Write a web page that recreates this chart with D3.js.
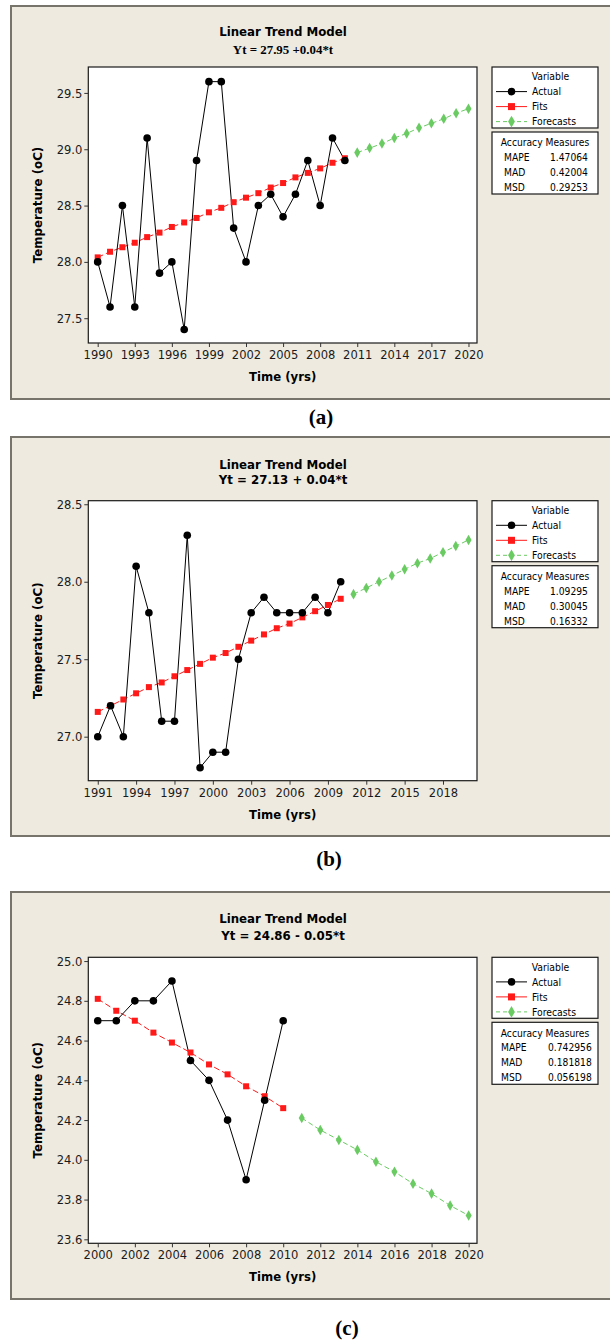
<!DOCTYPE html>
<html>
<head>
<meta charset="utf-8">
<script src="https://cdn.jsdelivr.net/npm/d3@7"></script>
<style>
  body { margin: 0; background: #fff; }
  svg text { font-family: "DejaVu Sans", sans-serif; }
  svg text.cond { font-family: "DejaVu Sans Condensed", "DejaVu Sans", sans-serif; font-stretch: condensed; }
</style>
</head>
<body>
<svg id="chart" width="610" height="1342"></svg>
<script>
// ---- data (a) ----
const yearsA = [1990, 1991, 1992, 1993, 1994, 1995, 1996, 1997, 1998, 1999, 2000,
  2001, 2002, 2003, 2004, 2005, 2006, 2007, 2008, 2009, 2010];
const actualA = [28.0, 27.6, 28.5, 27.6, 29.1, 27.9, 28.0, 27.4, 28.9, 29.6, 29.6,
  28.3, 28.0, 28.5, 28.6, 28.4, 28.6, 28.9, 28.5, 29.1, 28.9];
const fitsA = [28.04, 28.09, 28.13, 28.17, 28.22, 28.26, 28.31, 28.35, 28.39, 28.44, 28.48,
  28.53, 28.57, 28.61, 28.66, 28.70, 28.75, 28.79, 28.83, 28.88, 28.92];
const forecastYearsA = [2011, 2012, 2013, 2014, 2015, 2016, 2017, 2018, 2019, 2020];
const forecastsA = [28.97, 29.01, 29.05, 29.10, 29.14, 29.19, 29.23, 29.27, 29.32, 29.36];
const xTicksA = [1990, 1993, 1996, 1999, 2002, 2005, 2008, 2011, 2014, 2017, 2020];
const yTicksA = [27.5, 28.0, 28.5, 29.0, 29.5];
const measuresA = [["MAPE", "1.47064"], ["MAD", "0.42004"], ["MSD", "0.29253"]];

// ---- data (b) ----
const yearsB = [1991, 1992, 1993, 1994, 1995, 1996, 1997, 1998, 1999, 2000,
  2001, 2002, 2003, 2004, 2005, 2006, 2007, 2008, 2009, 2010];
const actualB = [27.0, 27.2, 27.0, 28.1, 27.8, 27.1, 27.1, 28.3, 26.8, 26.9,
  26.9, 27.5, 27.8, 27.9, 27.8, 27.8, 27.8, 27.9, 27.8, 28.0];
const fitsB = [27.16, 27.20, 27.24, 27.28, 27.32, 27.35, 27.39, 27.43, 27.47, 27.51,
  27.54, 27.58, 27.62, 27.66, 27.70, 27.73, 27.77, 27.81, 27.85, 27.89];
const forecastYearsB = [2011, 2012, 2013, 2014, 2015, 2016, 2017, 2018, 2019, 2020];
const forecastsB = [27.92, 27.96, 28.00, 28.04, 28.08, 28.12, 28.15, 28.19, 28.23, 28.27];
const xTicksB = [1991, 1994, 1997, 2000, 2003, 2006, 2009, 2012, 2015, 2018];
const yTicksB = [27.0, 27.5, 28.0, 28.5];
const measuresB = [["MAPE", "1.09295"], ["MAD", "0.30045"], ["MSD", "0.16332"]];

// ---- data (c) ----
const yearsC = [2000, 2001, 2002, 2003, 2004, 2005, 2006, 2007, 2008, 2009, 2010];
const actualC = [24.7, 24.7, 24.8, 24.8, 24.9, 24.5, 24.4, 24.2, 23.9, 24.3, 24.7];
const fitsC = [24.81, 24.75, 24.70, 24.64, 24.59, 24.54, 24.48, 24.43, 24.37, 24.32, 24.26];
const forecastYearsC = [2011, 2012, 2013, 2014, 2015, 2016, 2017, 2018, 2019, 2020];
const forecastsC = [24.21, 24.15, 24.10, 24.05, 23.99, 23.94, 23.88, 23.83, 23.77, 23.72];
const xTicksC = [2000, 2002, 2004, 2006, 2008, 2010, 2012, 2014, 2016, 2018, 2020];
const yTicksC = [23.6, 23.8, 24.0, 24.2, 24.4, 24.6, 24.8, 25.0];
const measuresC = [["MAPE", "0.742956"], ["MAD", "0.181818"], ["MSD", "0.056198"]];

const titleText = "Linear Trend Model";
const legendLabels = ["Actual", "Fits", "Forecasts"];

// colours
const RED = "#ff1a1a";
const GREEN = "#6acb62";
const BG = "#eeeae0";
const FRAME = "#77746c";

const panels = [
  { top: 6, bottom: 399, plotTop: 67, plotBottom: 343,
    yDomain: [27.28, 29.73], xDomain: [1989.24, 2020.69],
    years: yearsA, actual: actualA, fits: fitsA, fYears: forecastYearsA, forecasts: forecastsA,
    xTicks: xTicksA, yTicks: yTicksA, measures: measuresA,
    sub: "Yt = 27.95 +0.04*t", serifSub: true, titleY: 32, subY: 49,
    caption: "(a)", capX: 321, capY: 417, valX: 550, labX: 504 },
  { top: 437, bottom: 836, plotTop: 500.7, plotBottom: 780.7,
    yDomain: [26.716, 28.523], xDomain: [1990.26, 2020.66],
    years: yearsB, actual: actualB, fits: fitsB, fYears: forecastYearsB, forecasts: forecastsB,
    xTicks: xTicksB, yTicks: yTicksB, measures: measuresB,
    sub: "Yt = 27.13 + 0.04*t", serifSub: false, titleY: 465, subY: 480,
    caption: "(b)", capX: 329, capY: 859, valX: 550, labX: 504 },
  { top: 892, bottom: 1299, plotTop: 957.3, plotBottom: 1243.3,
    yDomain: [23.58, 25.019], xDomain: [1999.49, 2020.45],
    years: yearsC, actual: actualC, fits: fitsC, fYears: forecastYearsC, forecasts: forecastsC,
    xTicks: xTicksC, yTicks: yTicksC, measures: measuresC,
    sub: "Yt = 24.86 - 0.05*t", serifSub: false, titleY: 919, subY: 936,
    caption: "(c)", capX: 347, capY: 1328, valX: 548, labX: 501 }
];

const svg = d3.select("#chart");
const plotLeft = 88.3, plotRight = 477;

const diamond = d3.symbol().type(d3.symbolDiamond).size(32);

function drawPanel(p) {
  const g = svg.append("g");

  // background frame
  g.append("rect")
    .attr("x", 11).attr("y", p.top)
    .attr("width", 620).attr("height", p.bottom - p.top)
    .attr("fill", BG).attr("stroke", FRAME).attr("stroke-width", 2);

  const x = d3.scaleLinear().domain(p.xDomain).range([plotLeft, plotRight]);
  const y = d3.scaleLinear().domain(p.yDomain).range([p.plotBottom, p.plotTop]);

  g.append("rect")
    .attr("x", plotLeft).attr("y", p.plotTop)
    .attr("width", plotRight - plotLeft).attr("height", p.plotBottom - p.plotTop)
    .attr("fill", "#fff").attr("stroke", "#1a1a1a").attr("stroke-width", 1.2);

  // axes
  const xAxis = g.append("g")
    .attr("transform", `translate(0,${p.plotBottom})`)
    .call(d3.axisBottom(x).tickValues(p.xTicks).tickFormat(d3.format("d"))
      .tickSize(4).tickSizeOuter(0).tickPadding(3));
  const yAxis = g.append("g")
    .attr("transform", `translate(${plotLeft},0)`)
    .call(d3.axisLeft(y).tickValues(p.yTicks).tickFormat(d3.format(".1f"))
      .tickSize(4).tickSizeOuter(0).tickPadding(2));
  [xAxis, yAxis].forEach((a) => {
    a.select(".domain").remove();
    a.selectAll("line").attr("stroke", "#333");
    a.selectAll("text").attr("class", "cond").attr("font-size", 12.8).attr("fill", "#1a1a1a");
  });

  // titles
  g.append("text")
    .attr("x", 283).attr("y", p.titleY).attr("dy", "0.35em")
    .attr("text-anchor", "middle").attr("font-weight", "bold")
    .attr("font-size", 11.8).text(titleText);
  g.append("text")
    .attr("x", 283).attr("y", p.subY).attr("dy", "0.35em")
    .attr("text-anchor", "middle").attr("font-weight", "bold")
    .attr("font-size", p.serifSub ? 12.9 : 11.8)
    .style("font-family", p.serifSub ? "'Liberation Serif', serif" : null)
    .text(p.sub);

  g.append("text")
    .attr("x", (plotLeft + plotRight) / 2).attr("y", p.plotBottom + 34).attr("dy", "0.35em")
    .attr("text-anchor", "middle").attr("font-weight", "bold")
    .attr("font-size", 11.7).text("Time (yrs)");
  g.append("text")
    .attr("transform", `translate(38,${(p.plotTop + p.plotBottom) / 2}) rotate(-90)`)
    .attr("dy", "0.35em")
    .attr("text-anchor", "middle").attr("font-weight", "bold")
    .attr("font-size", 11.8).text("Temperature (oC)");

  // series
  const actualPts = p.years.map((yr, i) => [yr, p.actual[i]]);
  const fitPts = p.years.map((yr, i) => [yr, p.fits[i]]);
  const fcPts = p.fYears.map((yr, i) => [yr, p.forecasts[i]]);
  const line = d3.line().x((d) => x(d[0])).y((d) => y(d[1]));

  g.append("path").datum(fitPts).attr("d", line)
    .attr("fill", "none").attr("stroke", RED).attr("stroke-width", 1)
    .attr("stroke-dasharray", "6,3");
  g.append("path").datum(fcPts).attr("d", line)
    .attr("fill", "none").attr("stroke", GREEN).attr("stroke-width", 1)
    .attr("stroke-dasharray", "5,3");
  g.append("path").datum(actualPts).attr("d", line)
    .attr("fill", "none").attr("stroke", "#000").attr("stroke-width", 1);

  g.selectAll("rect.fit").data(fitPts).join("rect")
    .attr("class", "fit")
    .attr("x", (d) => x(d[0]) - 3).attr("y", (d) => y(d[1]) - 3)
    .attr("width", 6).attr("height", 6).attr("fill", RED);
  g.selectAll("path.fc").data(fcPts).join("path")
    .attr("class", "fc")
    .attr("transform", (d) => `translate(${x(d[0])},${y(d[1])})`)
    .attr("d", diamond).attr("fill", GREEN);
  g.selectAll("circle.act").data(actualPts).join("circle")
    .attr("class", "act")
    .attr("cx", (d) => x(d[0])).attr("cy", (d) => y(d[1]))
    .attr("r", 3.8).attr("fill", "#000");

  // legend
  const lx = 492, lw = 106;
  const lg = g.append("g").attr("transform", `translate(${lx},${p.plotTop})`);
  lg.append("rect").attr("width", lw).attr("height", 61)
    .attr("fill", "#fff").attr("stroke", "#1a1a1a").attr("stroke-width", 1.2);
  lg.append("text").attr("class", "cond").attr("x", 58.5).attr("y", 9.6).attr("dy", "0.35em")
    .attr("text-anchor", "middle").attr("font-size", 10.3).text("Variable");
  const styles = [
    { color: "#000", dash: null, mark: "circle" },
    { color: RED, dash: null, mark: "square" },
    { color: GREEN, dash: "4,3", mark: "diamond" }
  ];
  legendLabels.forEach((lab, i) => {
    const yy = 24.6 + i * 15;
    const s = styles[i];
    lg.append("line").attr("x1", 4).attr("x2", 35).attr("y1", yy).attr("y2", yy)
      .attr("stroke", s.color).attr("stroke-width", 1)
      .attr("stroke-dasharray", s.dash);
    if (s.mark === "circle") {
      lg.append("circle").attr("cx", 19.5).attr("cy", yy).attr("r", 3.8).attr("fill", s.color);
    } else if (s.mark === "square") {
      lg.append("rect").attr("x", 16).attr("y", yy - 3.5).attr("width", 7).attr("height", 7)
        .attr("fill", s.color);
    } else {
      lg.append("path").attr("transform", `translate(19.5,${yy})`)
        .attr("d", d3.symbol().type(d3.symbolDiamond).size(40)).attr("fill", s.color);
    }
    lg.append("text").attr("class", "cond").attr("x", 40).attr("y", yy).attr("dy", "0.35em")
      .attr("font-size", 10.3).text(lab);
  });

  const ag = g.append("g").attr("transform", `translate(${lx},${p.plotTop + 65})`);
  ag.append("rect").attr("width", lw).attr("height", 62)
    .attr("fill", "#fff").attr("stroke", "#1a1a1a").attr("stroke-width", 1.2);
  ag.append("text").attr("class", "cond").attr("x", 53).attr("y", 10.7).attr("dy", "0.35em")
    .attr("text-anchor", "middle").attr("font-size", 10.2).text("Accuracy Measures");
  p.measures.forEach((m, i) => {
    const yy = 25.5 + i * 15;
    ag.append("text").attr("class", "cond").attr("x", p.labX - lx).attr("y", yy).attr("dy", "0.35em")
      .attr("font-size", 10.2).text(m[0]);
    ag.append("text").attr("class", "cond").attr("x", p.valX - lx).attr("y", yy).attr("dy", "0.35em")
      .attr("font-size", 10.2).text(m[1]);
  });

  // caption
  svg.append("text")
    .attr("x", p.capX).attr("y", p.capY).attr("dy", "0.35em")
    .attr("text-anchor", "middle").attr("font-weight", "bold")
    .attr("font-size", 21)
    .style("font-family", "'Liberation Serif', serif")
    .text(p.caption);
}

panels.forEach(drawPanel);
</script>
</body>
</html>
